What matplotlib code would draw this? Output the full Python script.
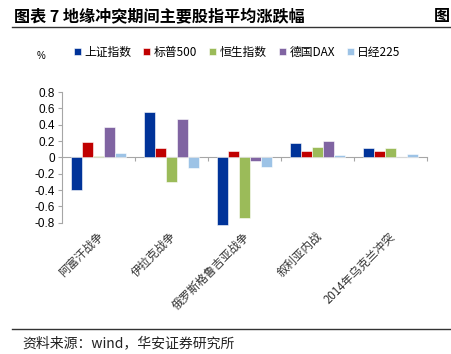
#!/usr/bin/env python3
# -*- coding: utf-8 -*-

import matplotlib
matplotlib.use('Agg')
import matplotlib.pyplot as plt
import matplotlib.transforms as mtransforms
import numpy as np

plt.rcParams['font.family'] = ['Noto Sans CJK SC', 'DejaVu Sans']

# 事件（类别）
events = ['阿富汗战争', '伊拉克战争', '俄罗斯格鲁吉亚战争', '叙利亚内战', '2014年乌克兰冲突']
series_names = ['上证指数', '标普500', '恒生指数', '德国DAX', '日经225']
shanghai = [-0.40, 0.555, -0.83, 0.17, 0.115]
sp500 = [0.19, 0.11, 0.08, 0.075, 0.075]
hangseng = [0.02, -0.30, -0.745, 0.125, 0.11]
dax = [0.37, 0.47, -0.05, 0.195, 0.01]
nikkei = [0.05, -0.13, -0.12, 0.025, 0.04]
colors = ['#003399', '#C00000', '#9BBB59', '#8064A2', '#9DC3E6']

all_series = [shanghai, sp500, hangseng, dax, nikkei]

fig = plt.figure(figsize=(4.52, 3.54), dpi=100)
ax = fig.add_axes([0.137, 0.371, 0.808, 0.369])

x = np.arange(len(events))
w = 0.15
for k, (vals, name, c) in enumerate(zip(all_series, series_names, colors)):
    ax.bar(x + (k - 2) * w, vals, width=w, color=c, label=name,
           edgecolor='white', linewidth=0.4, clip_on=False, zorder=3)

ax.set_xlim(-0.5, 4.5)
ax.set_ylim(-0.8, 0.8)
ax.set_yticks(np.arange(-0.8, 0.81, 0.2))
ax.set_yticklabels(['-0.8', '-0.6', '-0.4', '-0.2', '0', '0.2', '0.4', '0.6', '0.8'],
                   family='Liberation Sans', fontsize=8.5)
ax.spines['top'].set_visible(False)
ax.spines['right'].set_visible(False)
ax.spines['bottom'].set_position(('data', 0))
ax.spines['bottom'].set_color('#A6A6A6')
ax.spines['left'].set_color('#A6A6A6')
ax.set_xticks([0.5, 1.5, 2.5, 3.5, 4.5])
ax.set_xticklabels([])
ax.tick_params(axis='x', length=3, color='#A6A6A6', direction='out')
ax.tick_params(axis='y', length=3, color='#A6A6A6', pad=2)

# 类别标签（斜放在绘图区下方）
trans = mtransforms.blended_transform_factory(ax.transData, ax.transAxes)
for i, lab in enumerate(events):
    ax.text(i + 0.04, -0.09, lab, transform=trans, rotation=45,
            rotation_mode='anchor', ha='right', va='center',
            fontsize=8.3, color='#333333')

ax.legend(loc='lower left', bbox_to_anchor=(0.02, 1.22), ncol=5, frameon=False,
          fontsize=8.5, handlelength=0.6, handleheight=0.6, handletextpad=0.3,
          columnspacing=1.0, borderaxespad=0)

fig.text(41 / 452, 1 - 56 / 354, '%', fontsize=7, ha='center', va='center',
         family='Liberation Sans')

# 标题与来源
fig.text(14 / 452, 1 - 16 / 354, '图表 7 地缘冲突期间主要股指平均涨跌幅',
         fontsize=11.6, fontweight='bold', ha='left', va='center')
fig.text(434 / 452, 1 - 16 / 354, '图', fontsize=11.6, fontweight='bold',
         ha='left', va='center')
fig.add_artist(plt.Line2D([12 / 452, 1], [1 - 27 / 354] * 2, color='#333333', lw=1))
fig.add_artist(plt.Line2D([12 / 452, 1], [1 - 329 / 354] * 2, color='#333333', lw=1))
fig.text(22 / 452, 1 - 343 / 354, '资料来源：wind，华安证券研究所',
         fontsize=10, ha='left', va='center', color='#222222')

fig.savefig('out.png', dpi=100)
